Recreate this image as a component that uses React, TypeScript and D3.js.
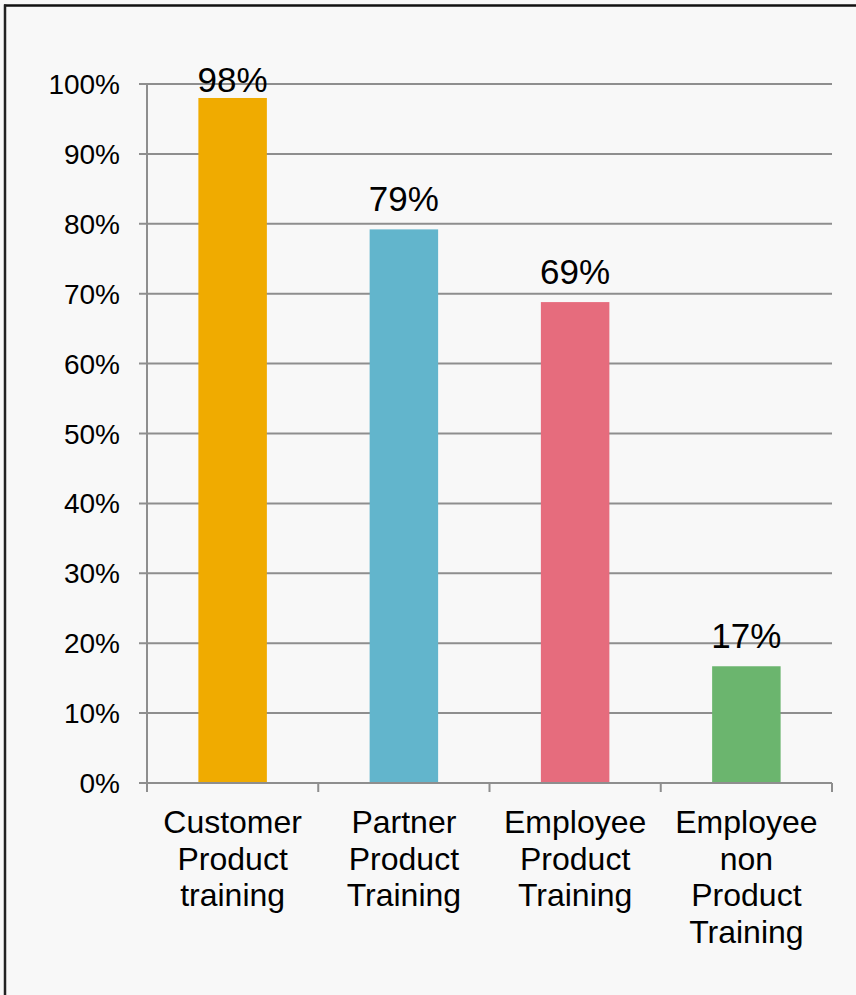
import React from "react";
import * as d3 from "d3";

const categories: string[][] = [
  ["Customer", "Product", "training"],
  ["Partner", "Product", "Training"],
  ["Employee", "Product", "Training"],
  ["Employee", "non", "Product", "Training"],
];
const values: number[] = [0.98, 0.792, 0.688, 0.167];
const colors: string[] = ["#F0AB00", "#62B5CC", "#E66C7D", "#6BB56E"];
const yTicks: number[] = [0, 0.1, 0.2, 0.3, 0.4, 0.5, 0.6, 0.7, 0.8, 0.9, 1.0];

const W = 856;
const H = 995;
const plot = { left: 147, right: 832, top: 84, bottom: 783 };
const FONT = "'Liberation Sans', Arial, sans-serif";

export default function App() {
  const x = d3
    .scaleBand<number>()
    .domain(values.map((_, i) => i))
    .range([plot.left, plot.right])
    .paddingInner(0.6)
    .paddingOuter(0.3);
  const bandStep = (plot.right - plot.left) / values.length;
  const y = d3.scaleLinear().domain([0, 1]).range([plot.bottom, plot.top]);
  const pct = d3.format(".0%");
  const gridColor = "#8e8e8e";

  return (
    <div style={{ position: "absolute", left: 0, top: 0 }}>
      <svg width={W} height={H} style={{ display: "block", background: "#f8f8f8" }}>
        {/* frame */}
        <line x1={4} x2={W} y1={5.5} y2={5.5} stroke="#111" strokeWidth={2.5} />
        <line x1={5} x2={5} y1={4.5} y2={H} stroke="#222" strokeWidth={2.5} />

        {/* grid lines and y ticks */}
        {yTicks.map((t) => (
          <g key={t}>
            <line
              x1={plot.left - 8}
              x2={plot.right}
              y1={y(t)}
              y2={y(t)}
              stroke={gridColor}
              strokeWidth={2}
            />
            <text
              x={120}
              y={y(t) + 10}
              textAnchor="end"
              fontFamily={FONT}
              fontSize={28}
              fill="#000"
            >
              {pct(t)}
            </text>
          </g>
        ))}

        {/* y axis */}
        <line
          x1={plot.left}
          x2={plot.left}
          y1={plot.top}
          y2={plot.bottom + 9}
          stroke={gridColor}
          strokeWidth={2}
        />
        {/* category ticks */}
        {d3.range(values.length + 1).map((i) => (
          <line
            key={i}
            x1={plot.left + i * bandStep}
            x2={plot.left + i * bandStep}
            y1={plot.bottom}
            y2={plot.bottom + 9}
            stroke={gridColor}
            strokeWidth={2}
          />
        ))}

        {/* bars */}
        {values.map((v, i) => (
          <rect
            key={i}
            x={x(i)!}
            width={x.bandwidth()}
            y={y(v)}
            height={y(0) - y(v)}
            fill={colors[i]}
          />
        ))}
        {/* baseline over bars */}
        <line
          x1={plot.left - 8}
          x2={plot.right}
          y1={y(0)}
          y2={y(0)}
          stroke={gridColor}
          strokeWidth={2}
        />

        {/* value labels */}
        {values.map((v, i) => (
          <text
            key={i}
            x={x(i)! + x.bandwidth() / 2}
            y={Math.max(y(v) - 18, 92)}
            textAnchor="middle"
            fontFamily={FONT}
            fontSize={35}
            fill="#000"
          >
            {pct(v)}
          </text>
        ))}

        {/* category labels */}
        {categories.map((lines, i) => (
          <text
            key={i}
            x={x(i)! + x.bandwidth() / 2}
            y={833}
            textAnchor="middle"
            fontFamily={FONT}
            fontSize={32}
            fill="#000"
          >
            {lines.map((l, j) => (
              <tspan key={j} x={x(i)! + x.bandwidth() / 2} dy={j === 0 ? 0 : 36.6}>
                {l}
              </tspan>
            ))}
          </text>
        ))}
      </svg>
    </div>
  );
}
